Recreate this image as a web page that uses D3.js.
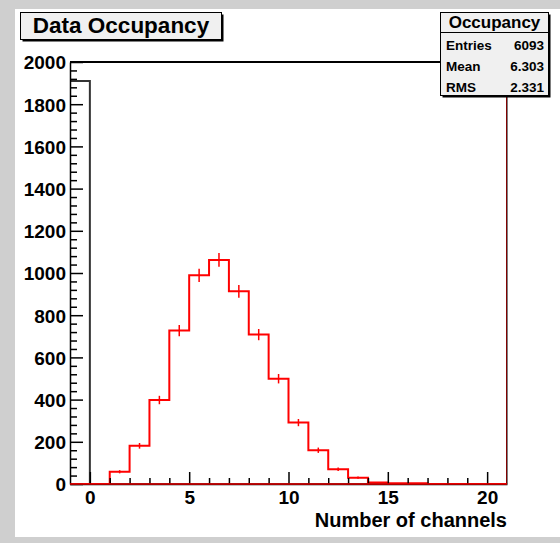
<!DOCTYPE html>
<html>
<head>
<meta charset="utf-8">
<script src="https://cdn.jsdelivr.net/npm/d3@7"></script>
<style>
  html, body { margin: 0; padding: 0; background: #fff; }
  svg { display: block; }
  text { font-family: "Liberation Sans", Arial, Helvetica, sans-serif; font-weight: bold; }
</style>
</head>
<body>
<svg id="c" width="560" height="543"></svg>
<script>
// ---- data ----
const binEdgesLow = [-1,0,1,2,3,4,5,6,7,8,9,10,11,12,13,14,15,16,17,18,19,20];
const occupancy   = [0,0,58,181,398,727,989,1062,913,708,499,291,160,70,30,7,3,3,0,0,0,0];
const blackHist   = [1910,0,0,0,0,0,0,0,0,0,0,0,0,0,0,0,0,0,0,0,0,0];
const xTicksMajor = [0,5,10,15,20];
const yTicksMajor = [0,200,400,600,800,1000,1200,1400,1600,1800,2000];
const titleText = "Data Occupancy";
const statsTitle = "Occupancy";
const statsLabels = ["Entries","Mean","RMS"];
const statsValues = ["6093","6.303","2.331"];
const xLabel = "Number of channels";

const svg = d3.select("#c");
const W = 560, H = 543;

// canvas background
svg.append("rect").attr("x",0).attr("y",0).attr("width",W).attr("height",H).attr("fill","#cfcfcf");
svg.append("rect").attr("x",15).attr("y",9).attr("width",W-15).attr("height",528).attr("fill","#ffffff");

const L = 70, R = 507, T = 62, B = 484;
const x = d3.scaleLinear().domain([-1,21]).range([L,R]);
const y = d3.scaleLinear().domain([0,2000]).range([B,T]);

svg.append("rect").attr("x",L).attr("y",T).attr("width",R-L).attr("height",B-T).attr("fill","#fff");

svg.append("clipPath").attr("id","clip").append("rect")
  .attr("x",L).attr("y",T).attr("width",R-L).attr("height",B-T);

const g = svg.append("g").attr("clip-path","url(#clip)");

// black histogram
(function(){
  const p = d3.path();
  p.moveTo(x(binEdgesLow[0]), y(blackHist[0]));
  blackHist.forEach((v,i)=>{
    p.lineTo(x(binEdgesLow[i]), y(v));
    p.lineTo(x(binEdgesLow[i]+1), y(v));
  });
  g.append("path").attr("d",p.toString()).attr("fill","none")
    .attr("stroke","#333").attr("stroke-width",2);
})();

// red histogram
(function(){
  const p = d3.path();
  p.moveTo(x(binEdgesLow[0]), y(0));
  occupancy.forEach((v,i)=>{
    p.lineTo(x(binEdgesLow[i]), y(v));
    p.lineTo(x(binEdgesLow[i]+1), y(v));
  });
  const last = binEdgesLow[binEdgesLow.length-1]+1;
  p.lineTo(x(last), y(2000));
  g.append("path").attr("d",p.toString()).attr("fill","none")
    .attr("stroke","#ff0000").attr("stroke-width",2).attr("stroke-linejoin","miter");
  occupancy.forEach((v,i)=>{
    if (v<=0) return;
    const cx = x(binEdgesLow[i]+0.5), e = Math.sqrt(v);
    g.append("line").attr("x1",cx).attr("x2",cx)
      .attr("y1",y(v-e)).attr("y2",y(v+e))
      .attr("stroke","#ff0000").attr("stroke-width",1.5);
  });
})();

// frame
svg.append("line").attr("x1",L).attr("x2",R).attr("y1",T).attr("y2",T).attr("stroke","#000").attr("stroke-width",2);
svg.append("line").attr("x1",R).attr("x2",R).attr("y1",T).attr("y2",B).attr("stroke","#000").attr("stroke-width",1);

// y axis
const yMinor = d3.range(0,2001,40).filter(v=>v%200!==0);
svg.append("g").attr("transform",`translate(${L},0)`)
  .call(d3.axisLeft(y).tickValues(yMinor).tickSize(-7).tickFormat(""))
  .call(a=>a.select(".domain").remove())
  .selectAll("line").attr("stroke","#000").attr("stroke-width",1.5);
const yAx = svg.append("g").attr("transform",`translate(${L},0)`)
  .call(d3.axisLeft(y).tickValues(yTicksMajor).tickSizeInner(-13).tickSizeOuter(0).tickPadding(4).tickFormat(d3.format("d")));
yAx.select(".domain").attr("stroke","#000").attr("stroke-width",1.5);
yAx.selectAll("line").attr("stroke","#000").attr("stroke-width",1.5);
yAx.selectAll("text").attr("font-size",19).attr("fill","#000")
  .attr("font-family","'Liberation Sans', Arial, sans-serif").attr("font-weight","bold").attr("dy","0.36em");

// x axis
const xMinor = d3.range(-1,22,1).filter(v=>!xTicksMajor.includes(v) && v>-1 && v<21);
svg.append("g").attr("transform",`translate(0,${B})`)
  .call(d3.axisBottom(x).tickValues(xMinor).tickSize(-6).tickFormat(""))
  .call(a=>a.select(".domain").remove())
  .selectAll("line").attr("stroke","#000").attr("stroke-width",1.5);
const xAx = svg.append("g").attr("transform",`translate(0,${B})`)
  .call(d3.axisBottom(x).tickValues(xTicksMajor).tickSizeInner(-12).tickSizeOuter(0).tickPadding(7).tickFormat(d3.format("d")));
xAx.select(".domain").attr("stroke","#000").attr("stroke-width",1.5);
xAx.selectAll("line").attr("stroke","#000").attr("stroke-width",1.5);
xAx.selectAll("text").attr("font-size",19).attr("fill","#000")
  .attr("font-family","'Liberation Sans', Arial, sans-serif").attr("font-weight","bold");

// red baseline over axis
(function(){
  const p = d3.path();
  p.moveTo(x(-1), y(0)); p.lineTo(x(21), y(0));
  svg.append("path").attr("d",p.toString()).attr("stroke","#ff0000").attr("stroke-width",1.5).attr("fill","none")
    .attr("opacity",0.9);
})();

svg.append("text").attr("x",R).attr("y",527).attr("text-anchor","end")
  .attr("font-size",20).attr("fill","#000").text(xLabel);

function shadowBox(x0,y0,w,h){
  svg.append("rect").attr("x",x0+2).attr("y",y0+2).attr("width",w).attr("height",h).attr("fill","#000");
  svg.append("rect").attr("x",x0).attr("y",y0).attr("width",w).attr("height",h)
    .attr("fill","#f0f0f0").attr("stroke","#000").attr("stroke-width",1);
}
shadowBox(20.5,12.5,201,27);
svg.append("text").attr("x",121).attr("y",33).attr("text-anchor","middle")
  .attr("font-size",22.5).attr("fill","#000").text(titleText);

shadowBox(440.5,12.5,108,83);
svg.append("line").attr("x1",440.5).attr("x2",548.5).attr("y1",32.5).attr("y2",32.5).attr("stroke","#000");
svg.append("text").attr("x",494.5).attr("y",28).attr("text-anchor","middle")
  .attr("font-size",17).attr("fill","#000").text(statsTitle);
statsLabels.forEach((lab,i)=>{
  const yy = 49.5 + i*21;
  svg.append("text").attr("x",446).attr("y",yy).attr("font-size",13.5).attr("fill","#000").text(lab);
  svg.append("text").attr("x",544).attr("y",yy).attr("text-anchor","end").attr("font-size",13.5).attr("fill","#000").text(statsValues[i]);
});
</script>
</body>
</html>
